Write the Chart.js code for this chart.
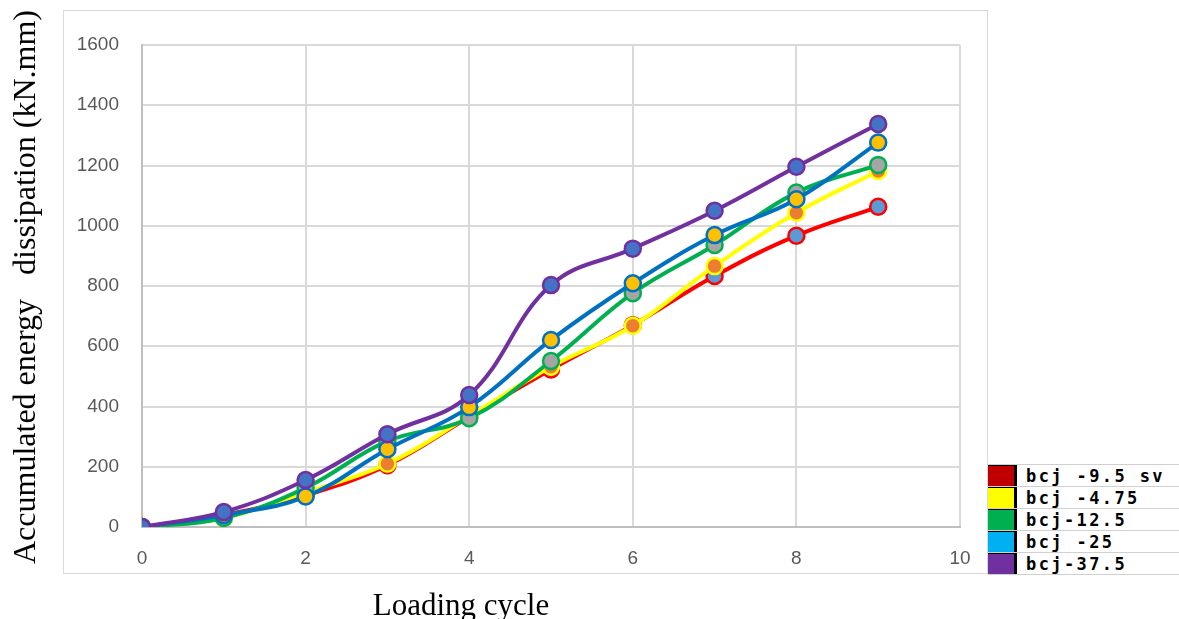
<!DOCTYPE html>
<html>
<head>
<meta charset="utf-8">
<script src="https://cdn.jsdelivr.net/npm/chart.js@4.4.1/dist/chart.umd.min.js"></script>
<style>
  html, body { margin: 0; padding: 0; background: #ffffff; }
  body { width: 1179px; height: 619px; position: relative; overflow: hidden; }
  #frame { position: absolute; left: 63px; top: 10px; width: 925px; height: 564px; border: 1px solid #d9d9d9; box-sizing: border-box; }
  #wrap { position: absolute; left: 0; top: 0; width: 1179px; height: 619px; }
  .ytitle { position: absolute; left: 24px; top: 287px; transform: translate(-50%, -50%) rotate(-90deg);
            font-family: "Liberation Serif", "DejaVu Serif", serif; font-size: 32px; line-height: 1; white-space: pre; color: #000; }
  .xtitle { position: absolute; left: 461px; top: 604px; transform: translate(-50%, -50%);
            font-family: "Liberation Serif", "DejaVu Serif", serif; font-size: 31px; line-height: 1; white-space: pre; color: #000; }
  #legend { position: absolute; left: 988px; top: 464px; width: 191px; background: #fff; border-top: 1px solid #d0d0d0; }
  .row { height: 22px; display: flex; align-items: center; border-bottom: 1px solid #d0d0d0; box-sizing: border-box; }
  .sw { width: 29px; height: 100%; border-right: 3px solid #000; border-top: 1px solid #000; box-sizing: border-box; }
  .lbl { margin-left: 9px; font-family: "DejaVu Sans Mono", monospace; font-weight: bold; font-size: 17px; letter-spacing: 2.4px; color: #000; white-space: pre; }
</style>
</head>
<body>
<div id="frame"></div>
<div id="wrap"><canvas id="c" width="1179" height="619"></canvas></div>
<div class="ytitle">Accumulated energy   dissipation (kN.mm)</div>
<div class="xtitle">Loading cycle</div>
<div id="legend"></div>
<script>
const cycles = [0, 1, 2, 3, 4, 5, 6, 7, 8, 9];
const seriesNames = ["bcj -9.5 sv", "bcj -4.75", "bcj-12.5", "bcj -25", "bcj-37.5"];
const bcj95  = [0, 40, 105, 205, 365, 523, 670, 833, 967, 1063];
const bcj475 = [0, 30, 115, 210, 368, 532, 668, 866, 1043, 1182];
const bcj125 = [0, 30, 130, 285, 361, 551, 776, 936, 1110, 1202];
const bcj25  = [0, 40, 101, 258, 398, 621, 809, 969, 1088, 1276];
const bcj375 = [0, 50, 156, 308, 438, 803, 924, 1050, 1196, 1338];
const xTicks = [0, 2, 4, 6, 8, 10];
const yTicks = [0, 200, 400, 600, 800, 1000, 1200, 1400, 1600];

const lineColors   = ["#ff0000", "#ffff00", "#00b050", "#0070c0", "#7030a0"];
const markerFills  = ["#5b9bd5", "#ed7d31", "#a5a5a5", "#ffc000", "#4472c4"];
const legendColors = ["#c00000", "#ffff00", "#00b050", "#00b0f0", "#7030a0"];
const allSeries = [bcj95, bcj475, bcj125, bcj25, bcj375];

const datasets = allSeries.map((vals, i) => ({
  label: seriesNames[i],
  data: cycles.map((c, k) => ({ x: c, y: vals[k] })),
  borderColor: lineColors[i],
  backgroundColor: markerFills[i],
  pointBackgroundColor: markerFills[i],
  pointBorderColor: lineColors[i],
  pointBorderWidth: 2.5,
  pointRadius: 8,
  borderWidth: 4,
  tension: 0.4,
  order: allSeries.length - i
}));

new Chart(document.getElementById("c"), {
  type: "line",
  data: { datasets },
  options: {
    responsive: false,
    animation: false,
    layout: { padding: { left: 63, right: 219, top: 45, bottom: 0 } },
    plugins: { legend: { display: false }, tooltip: { enabled: false } },
    scales: {
      x: {
        type: "linear", min: 0, max: 10,
        afterBuildTicks: s => { s.ticks = xTicks.map(v => ({ value: v })); },
        afterFit: s => { s.height = 92; },
        grid: { color: "#d9d9d9", lineWidth: 2, drawTicks: false },
        border: { color: "#bfbfbf", width: 2 },
        ticks: { padding: 20, color: "#595959", font: { family: "Liberation Sans", size: 19 }, callback: v => String(v) }
      },
      y: {
        min: 0, max: 1600,
        afterBuildTicks: s => { s.ticks = yTicks.map(v => ({ value: v })); },
        afterFit: s => { s.width = 79; },
        grid: { color: "#d9d9d9", lineWidth: 2, drawTicks: false },
        border: { color: "#bfbfbf", width: 2 },
        ticks: { padding: 23, color: "#595959", font: { family: "Liberation Sans", size: 19 }, callback: v => String(v) }
      }
    }
  }
});

const legend = document.getElementById("legend");
seriesNames.forEach((n, i) => {
  const row = document.createElement("div");
  row.className = "row";
  const sw = document.createElement("div");
  sw.className = "sw";
  sw.style.background = legendColors[i];
  const lb = document.createElement("span");
  lb.className = "lbl";
  lb.textContent = n;
  row.appendChild(sw); row.appendChild(lb);
  legend.appendChild(row);
});
</script>
</body>
</html>
